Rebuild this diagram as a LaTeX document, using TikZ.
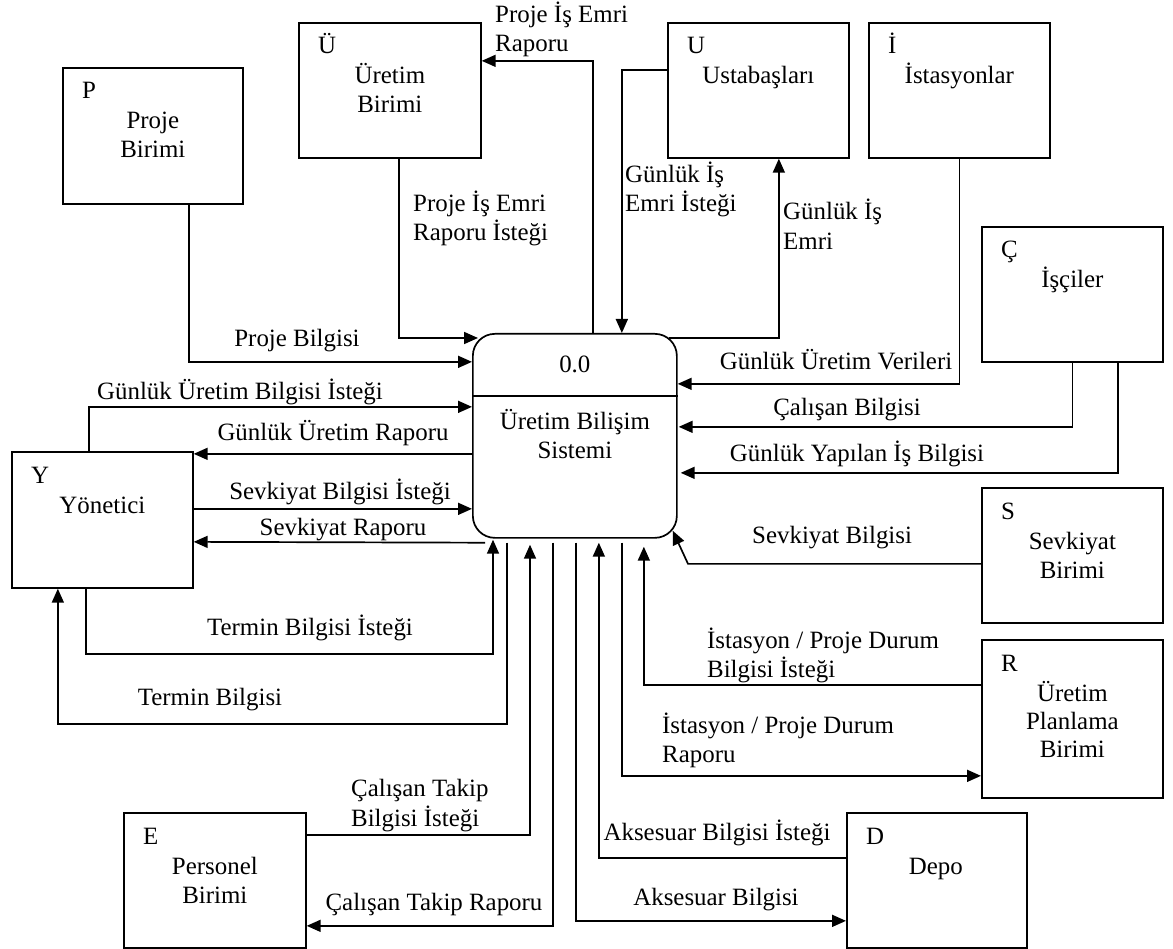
\documentclass[tikz,border=0pt]{standalone}
\usepackage{fontspec}
\setmainfont{Liberation Serif}
\usetikzlibrary{arrows.meta}
\tikzset{
  ent/.style={draw, line width=1.7pt, minimum width=181pt, minimum height=135pt, inner sep=0pt, anchor=north west},
  lt/.style={inner sep=0pt, anchor=base west},
  nm/.style={inner sep=0pt, anchor=base},
  lab/.style={inner sep=0pt, anchor=base},
  labw/.style={inner sep=0pt, anchor=base west},
  flow/.style={line width=1.7pt, -{Triangle[length=14pt,width=12pt]}},
}
\begin{document}
\begin{tikzpicture}[x=1pt,y=-1pt, font=\fontsize{24.9}{29}\selectfont]
\useasboundingbox (0,0) rectangle (1173,949);
% entities
\node[ent, minimum width=180pt, minimum height=136pt] (P) at (62,67) {};
\node[ent, minimum width=182pt] (UB) at (298,22) {};
\node[ent] (U) at (667,22) {};
\node[ent] (I) at (868,22) {};
\node[ent] (C) at (981,226) {};
\node[ent, minimum height=136pt] (Y) at (11,451) {};
\node[ent] (S) at (981,487) {};
\node[ent, minimum height=158pt] (R) at (981,639) {};
\node[ent, minimum width=180pt] (D) at (846,812) {};
\node[ent, minimum width=182pt] (E) at (123,812) {};
% process
\node[draw, line width=1.7pt, rounded corners=22pt, minimum width=204pt, minimum height=204pt, inner sep=0pt, anchor=north west] (proc) at (472,333) {};
\draw[line width=1.7pt] ([yshift=40pt]proc.west) -- ([yshift=40pt]proc.east);
\node[nm] (p0) at ([yshift=-40pt]proc.north) {0.0};
\node[nm] (p1) at ([yshift=-97pt]proc.north) {Üretim Bilişim};
\node[nm] (p2) at ([yshift=-126pt]proc.north) {Sistemi};
% entity texts
\node[lt] (Pl) at ([xshift=20pt,yshift=-32pt]P.north west) {P};
\node[nm] (Pn1) at ([yshift=-62pt]P.north) {Proje};
\node[nm] (Pn2) at ([yshift=-91pt]P.north) {Birimi};
\node[lt] (UBl) at ([xshift=20pt,yshift=-32pt]UB.north west) {Ü};
\node[nm] (UBn1) at ([yshift=-62pt]UB.north) {Üretim};
\node[nm] (UBn2) at ([yshift=-91pt]UB.north) {Birimi};
\node[lt] (Ul) at ([xshift=20pt,yshift=-32pt]U.north west) {U};
\node[nm] (Un1) at ([yshift=-62pt]U.north) {Ustabaşları};
\node[lt] (Il) at ([xshift=20pt,yshift=-32pt]I.north west) {İ};
\node[nm] (In1) at ([yshift=-62pt]I.north) {İstasyonlar};
\node[lt] (Cl) at ([xshift=20pt,yshift=-32pt]C.north west) {Ç};
\node[nm] (Cn1) at ([yshift=-62pt]C.north) {İşçiler};
\node[lt] (Yl) at ([xshift=20pt,yshift=-32pt]Y.north west) {Y};
\node[nm] (Yn1) at ([yshift=-62pt]Y.north) {Yönetici};
\node[lt] (Sl) at ([xshift=20pt,yshift=-32pt]S.north west) {S};
\node[nm] (Sn1) at ([yshift=-62pt]S.north) {Sevkiyat};
\node[nm] (Sn2) at ([yshift=-91pt]S.north) {Birimi};
\node[lt] (Rl) at ([xshift=20pt,yshift=-32pt]R.north west) {R};
\node[nm] (Rn1) at ([yshift=-62pt]R.north) {Üretim};
\node[nm] (Rn2) at ([yshift=-90pt]R.north) {Planlama};
\node[nm] (Rn3) at ([yshift=-118pt]R.north) {Birimi};
\node[lt] (Dl) at ([xshift=20pt,yshift=-32pt]D.north west) {D};
\node[nm] (Dn1) at ([xshift=-1pt,yshift=-62pt]D.north) {Depo};
\node[lt] (El) at ([xshift=20pt,yshift=-32pt]E.north west) {E};
\node[nm] (En1) at ([yshift=-62pt]E.north) {Personel};
\node[nm] (En2) at ([yshift=-91pt]E.north) {Birimi};
% connectors
\draw[flow] ([xshift=9pt]UB.south) |- ([xshift=6pt,yshift=-5pt]proc.north west);
\draw[flow] ([xshift=18pt]proc.north) |- ([yshift=29.5pt]UB.east);
\draw[flow] ([yshift=20.5pt]U.west) -| ([xshift=47pt]proc.north);
\draw[flow] ([xshift=-9pt,yshift=-5pt]proc.north east) -| ([xshift=20.5pt]U.south);
\draw[flow] (I.south) |- ([yshift=52pt]proc.east);
\draw[flow] (C.south) |- ([xshift=1pt,yshift=9pt]proc.east);
\draw[flow] ([xshift=45.5pt]C.south) |- ([xshift=3pt,yshift=-37pt]proc.east);
\draw[flow] ([xshift=36pt]P.south) |- ([yshift=74pt]proc.west);
\draw[flow] ([xshift=-13.5pt]Y.north) |- ([yshift=29pt]proc.west);
\draw[flow] ([yshift=-18pt]proc.west) -- ([yshift=66pt]Y.east);
\draw[flow] ([yshift=11pt]Y.east) -- ([yshift=-73pt]proc.west);
\draw[flow] ([xshift=13pt,yshift=-4pt]proc.south west) -- ([yshift=-22pt]Y.east);
\draw[flow] ([xshift=-16.5pt]Y.south) -- ++(0,65) -| ([xshift=21pt,yshift=-1pt]proc.south west);
\draw[flow] ([xshift=35pt,yshift=-4pt]proc.south west) -- ++(0,181) -| ([xshift=-44.5pt]Y.south);
\draw[flow] ([yshift=45.5pt]E.east) -| ([xshift=58pt,yshift=-6pt]proc.south west);
\draw[flow] ([xshift=81pt,yshift=-4pt]proc.south west) |- ([yshift=-45.5pt]E.east);
\draw[flow] ([xshift=1pt,yshift=-4pt]proc.south) |- ([yshift=-40.5pt]D.west);
\draw[flow] ([yshift=22.5pt]D.west) -| ([xshift=24pt,yshift=-4pt]proc.south);
\draw[flow] ([yshift=34pt]R.west) -| ([xshift=69pt,yshift=-8pt]proc.south);
\draw[flow] ([xshift=47pt,yshift=-4pt]proc.south) |- ([yshift=-57pt]R.west);
\draw[flow] ([yshift=-8.5pt]S.west) -- ++(-293,0) -- ([xshift=-5pt,yshift=8pt]proc.south east);
% labels
\node[labw] (L1a) at (495,23) {Proje İş Emri};
\node[labw] (L1b) at (495,52) {Raporu};
\node[labw] (L2a) at (413,212) {Proje İş Emri};
\node[labw] (L2b) at (413,241) {Raporu İsteği};
\node[labw] (L3a) at (625,183) {Günlük İş};
\node[labw] (L3b) at (625,212) {Emri İsteği};
\node[labw] (L4a) at (783,220) {Günlük İş};
\node[labw] (L4b) at (783,250) {Emri};
\node[lab] (L5) at (297,347) {Proje Bilgisi};
\node[lab] (L6) at (240,400) {Günlük Üretim Bilgisi İsteği};
\node[lab] (L7) at (333,441) {Günlük Üretim Raporu};
\node[lab] (L8) at (340,499) {Sevkiyat Bilgisi İsteği};
\node[lab] (L9) at (343,535) {Sevkiyat Raporu};
\node[lab] (L10) at (310,635) {Termin Bilgisi İsteği};
\node[lab] (L11) at (210,705) {Termin Bilgisi};
\node[labw] (L12a) at (351,796) {Çalışan Takip};
\node[labw] (L12b) at (351,826) {Bilgisi İsteği};
\node[lab] (L13) at (434,910) {Çalışan Takip Raporu};
\node[lab] (L14) at (717,840) {Aksesuar Bilgisi İsteği};
\node[lab] (L15) at (716,905) {Aksesuar Bilgisi};
\node[labw] (L16a) at (707,648) {İstasyon / Proje Durum};
\node[labw] (L16b) at (707,677) {Bilgisi İsteği};
\node[labw] (L17a) at (662,733) {İstasyon / Proje Durum};
\node[labw] (L17b) at (662,762) {Raporu};
\node[labw] (L18) at (752,543) {Sevkiyat Bilgisi};
\node[lab] (L19) at (836,370) {Günlük Üretim Verileri};
\node[lab] (L20) at (847,416) {Çalışan Bilgisi};
\node[lab] (L21) at (857,461) {Günlük Yapılan İş Bilgisi};
\end{tikzpicture}
\end{document}
